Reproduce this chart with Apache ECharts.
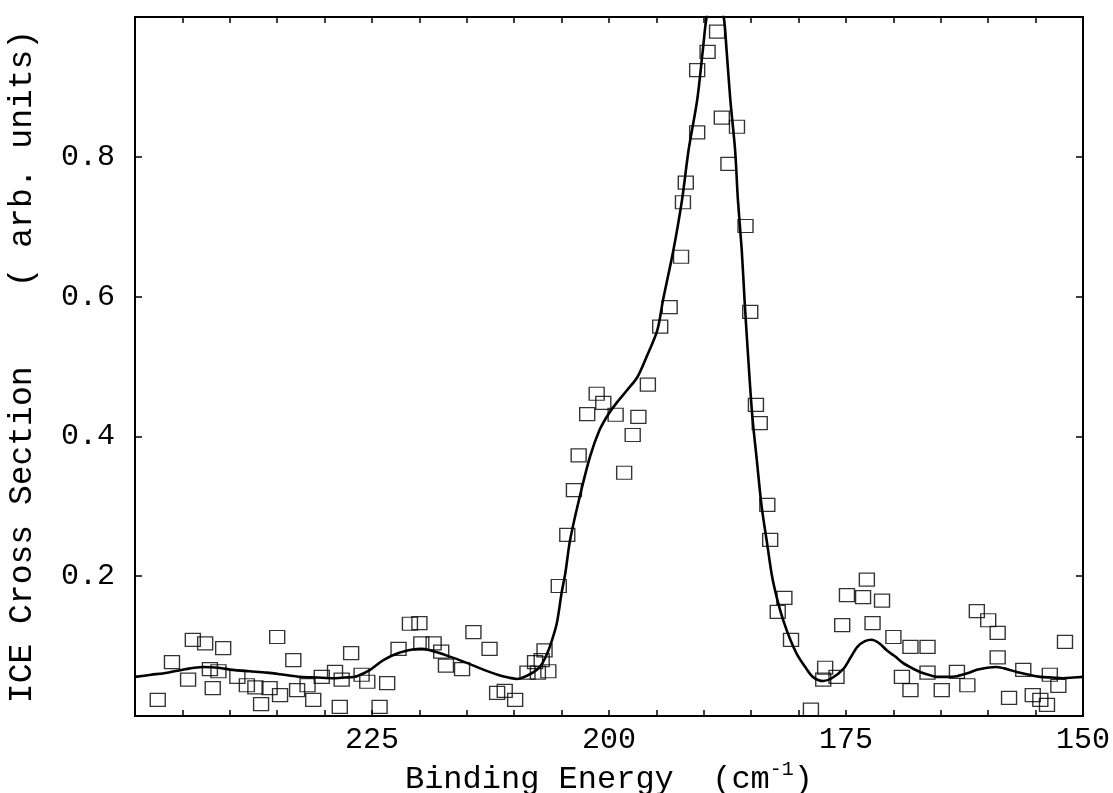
<!DOCTYPE html>
<html><head><meta charset="utf-8">
<script src="https://cdn.jsdelivr.net/npm/echarts@6/dist/echarts.min.js"></script>
<style>html,body{margin:0;padding:0;background:#fff}#c{width:1113px;height:793px}</style>
</head><body><div id="c"></div>
<script>
// Measured points (binding energy, cross section)
const dataX = [247.6,246.1,244.4,243.9,242.6,240.7,242.1,241.2,239.2,238.2,237.3,235.8,234.7,241.8,236.7,235.0,233.3,232.9,231.8,231.2,230.3,228.9,228.2,227.2,228.4,226.1,225.5,224.2,223.4,222.2,221.0,220.0,219.8,218.5,217.7,217.2,215.5,214.3,212.6,211.8,211.0,209.9,208.6,207.8,207.5,206.8,206.4,207.1,205.3,204.4,203.7,203.2,202.3,201.3,200.6,199.3,196.9,197.5,195.9,198.4,194.6,193.6,192.4,192.2,191.9,190.7,190.7,189.6,188.6,188.1,186.5,187.4,185.6,185.1,184.5,184.1,183.3,183.0,181.5,182.2,180.8,177.2,177.4,178.7,176.0,174.9,175.4,172.8,173.2,171.2,172.2,170.0,168.2,166.4,169.1,168.2,166.4,164.9,163.3,162.2,161.2,160.0,159.0,159.0,157.8,156.3,155.3,154.5,153.5,152.6,151.9,153.8];
const dataY = [0.023,0.077,0.052,0.109,0.104,0.097,0.067,0.064,0.056,0.044,0.041,0.040,0.030,0.040,0.017,0.113,0.080,0.037,0.044,0.023,0.056,0.063,0.052,0.090,0.013,0.059,0.049,0.013,0.047,0.096,0.132,0.133,0.104,0.104,0.092,0.072,0.067,0.120,0.096,0.033,0.036,0.023,0.062,0.077,0.062,0.094,0.064,0.080,0.186,0.259,0.323,0.373,0.432,0.461,0.448,0.431,0.428,0.402,0.474,0.348,0.557,0.585,0.657,0.735,0.763,0.835,0.924,0.950,0.979,0.856,0.843,0.790,0.701,0.578,0.445,0.419,0.302,0.252,0.169,0.149,0.109,0.069,0.052,0.009,0.056,0.173,0.130,0.195,0.170,0.165,0.133,0.113,0.099,0.099,0.056,0.037,0.062,0.037,0.063,0.044,0.150,0.137,0.119,0.084,0.026,0.066,0.030,0.023,0.059,0.043,0.106,0.016];
// Fitted curve
const fitX = [250.0,248.3,246.6,244.7,242.8,241.2,239.7,237.9,236.1,234.3,232.6,230.8,229.1,227.8,226.6,225.2,223.8,222.2,220.7,219.8,218.9,217.0,215.0,213.2,211.5,210.6,209.7,208.6,207.6,207.0,206.5,206.0,205.5,205.0,204.6,204.1,203.1,202.0,201.0,200.1,199.2,198.1,197.0,196.0,194.9,194.3,193.2,192.3,191.6,190.7,190.1,189.7,188.8,187.9,187.6,187.2,186.7,186.4,186.0,185.7,185.4,184.9,184.4,183.9,183.3,182.8,182.2,181.6,180.9,180.2,179.3,178.5,177.4,176.5,175.3,174.5,173.8,173.0,172.3,171.5,170.7,169.8,169.0,168.1,167.2,166.3,165.4,164.3,163.3,162.2,161.2,160.1,159.1,158.0,157.0,155.7,154.5,153.3,152.1,151.0,150.0];
const fitY = [0.056,0.059,0.062,0.067,0.070,0.069,0.066,0.064,0.062,0.059,0.056,0.055,0.054,0.055,0.057,0.066,0.080,0.090,0.095,0.096,0.094,0.086,0.076,0.066,0.058,0.055,0.053,0.058,0.066,0.076,0.090,0.109,0.133,0.176,0.205,0.252,0.313,0.371,0.409,0.431,0.448,0.466,0.485,0.515,0.552,0.595,0.667,0.738,0.810,0.881,0.953,1.0,1.05,1.0,0.953,0.881,0.810,0.738,0.667,0.595,0.530,0.432,0.365,0.300,0.245,0.200,0.164,0.136,0.110,0.089,0.070,0.056,0.050,0.054,0.067,0.084,0.099,0.107,0.109,0.104,0.094,0.085,0.076,0.069,0.063,0.059,0.056,0.056,0.057,0.061,0.066,0.069,0.070,0.067,0.063,0.059,0.056,0.055,0.054,0.055,0.056];
const xTickLabels = [150,175,200,225];
const yTickLabels = [0.2,0.4,0.6,0.8];

const FONT = 'Liberation Mono';
const chart = echarts.init(document.getElementById('c'));
function xAxisCfg(pos, showLabels) {
  return {
    type: 'value', position: pos, inverse: true, min: 150, max: 250, interval: 25,
    axisLine: {show: true, onZero: false, lineStyle: {color: '#000', width: 2}},
    axisTick: {show: true, inside: true, length: 6, lineStyle: {color: '#000', width: 1.5}},
    minorTick: {show: true, splitNumber: 5, length: 6, lineStyle: {color: '#000', width: 1.5}},
    splitLine: {show: false},
    axisLabel: {show: showLabels, margin: 9, color: '#000', fontFamily: FONT, fontSize: 30,
      formatter: v => xTickLabels.indexOf(v) >= 0 ? String(v) : ''}
  };
}
function yAxisCfg(pos, showLabels) {
  return {
    type: 'value', position: pos, min: 0, max: 1, interval: 0.2,
    axisLine: {show: true, onZero: false, lineStyle: {color: '#000', width: 2}},
    axisTick: {show: true, inside: true, length: 7, lineStyle: {color: '#000', width: 1.5}},
    splitLine: {show: false},
    axisLabel: {show: showLabels, margin: 20, color: '#000', fontFamily: FONT, fontSize: 30,
      formatter: v => yTickLabels.some(t => Math.abs(t - v) < 1e-9) ? v.toFixed(1) : ''}
  };
}
const xb = xAxisCfg('bottom', true);
xb.name = '{m|Binding Energy  (cm}{sup|-1}{m|)}';
xb.nameLocation = 'middle';
xb.nameGap = 44;
xb.nameMoveOverlap = false;
xb.nameTextStyle = {color: '#000', fontFamily: FONT, fontSize: 32,
  rich: {
    m: {fontFamily: FONT, fontSize: 32, lineHeight: 36, verticalAlign: 'bottom', color: '#000'},
    sup: {fontFamily: FONT, fontSize: 20, lineHeight: 20, padding: [0, 0, 16, 0], verticalAlign: 'bottom', color: '#000'}
  }};
const yl = yAxisCfg('left', true);
yl.name = 'ICE Cross Section    ( arb. units)';
yl.nameLocation = 'middle';
yl.nameRotate = 90;
yl.nameGap = 96;
yl.nameMoveOverlap = false;
yl.nameTextStyle = {color: '#000', fontFamily: FONT, fontSize: 33};

chart.setOption({
  animation: false,
  backgroundColor: '#fff',
  grid: {left: 135, right: 30, top: 17, bottom: 77, containLabel: false, outerBoundsMode: 'none'},
  xAxis: [xb, xAxisCfg('top', false)],
  yAxis: [yl, yAxisCfg('right', false)],
  series: [
    {type: 'line', xAxisIndex: 0, yAxisIndex: 0, data: fitX.map((x, i) => [x, fitY[i]]),
      smooth: 0.3, showSymbol: false, clip: true, lineStyle: {color: '#000', width: 2.6}, z: 3},
    {type: 'scatter', xAxisIndex: 0, yAxisIndex: 0, data: dataX.map((x, i) => [x, dataY[i]]),
      symbol: 'rect', symbolSize: [15, 13], clip: true,
      itemStyle: {color: 'rgba(255,255,255,0)', borderColor: '#000', borderWidth: 1.3}, z: 2}
  ]
});
</script></body></html>
